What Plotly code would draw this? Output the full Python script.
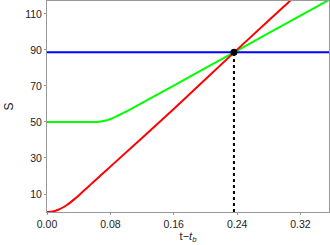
import plotly.graph_objects as go

# Data
red_t = [0, 0.005, 0.01, 0.015, 0.02, 0.025, 0.03, 0.035, 0.04, 0.045, 0.05, 0.055, 0.06, 0.065, 0.07, 0.08, 0.16, 0.24, 0.32, 0.36]
red_s = [0, 0.15, 0.6, 1.4, 2.5, 3.9, 5.5, 7.3, 9.2, 11.2, 13.2, 15.2, 17.2, 19.2, 21.2, 25.2, 57.2, 90.2, 122.6, 138.8]

green_t = [0, 0.062, 0.066, 0.07, 0.074, 0.078, 0.082, 0.086, 0.09, 0.095, 0.10, 0.16, 0.24, 0.32, 0.36]
green_s = [50, 50, 50.1, 50.4, 50.8, 51.3, 52.0, 52.7, 53.6, 54.7, 55.8, 70.2, 89.7, 109.1, 118.8]

blue_t = [0, 0.36]
blue_s = [88.7, 88.7]

cross_t = [0.236]
cross_s = [88.7]

x_ticks = [0.00, 0.08, 0.16, 0.24, 0.32]
x_tick_labels = ["0.00", "0.08", "0.16", "0.24", "0.32"]
y_ticks = [10, 30, 50, 70, 90, 110]

fig = go.Figure()
fig.add_trace(go.Scatter(x=blue_t, y=blue_s, mode="lines",
                         line=dict(color="#0000ff", width=2), showlegend=False))
fig.add_trace(go.Scatter(x=green_t, y=green_s, mode="lines",
                         line=dict(color="#00ff00", width=2, shape="spline", smoothing=0.6),
                         showlegend=False))
fig.add_trace(go.Scatter(x=red_t, y=red_s, mode="lines",
                         line=dict(color="#ff0000", width=2, shape="spline", smoothing=0.6),
                         showlegend=False))
fig.add_trace(go.Scatter(x=[cross_t[0], cross_t[0]], y=[0, cross_s[0]], mode="lines",
                         line=dict(color="#000000", width=2, dash="dot"), showlegend=False))
fig.add_trace(go.Scatter(x=cross_t, y=cross_s, mode="markers",
                         marker=dict(color="#000000", size=7), showlegend=False))

axis_common = dict(showgrid=False, zeroline=False, showline=True, linecolor="#999999",
                   linewidth=1, mirror=True, ticks="outside", ticklen=2,
                   tickcolor="#999999", tickfont=dict(family="Liberation Sans, Arial", size=10.5, color="#222222"))

fig.update_xaxes(range=[0, 0.356], tickvals=x_ticks, ticktext=x_tick_labels,
                 title=dict(text="t−<i>t<sub>b</sub></i>", standoff=0,
                            font=dict(family="Liberation Sans, Arial", size=11, color="#222222")),
                 **axis_common)
fig.update_yaxes(range=[0, 117.2], tickvals=y_ticks,
                 title=dict(text="S", standoff=8,
                            font=dict(family="Liberation Sans, Arial", size=12, color="#222222")),
                 **axis_common)

fig.update_layout(width=330, height=245, margin=dict(l=47, r=1, t=1, b=33),
                  plot_bgcolor="white", paper_bgcolor="white")

fig.write_html("out.html", config={"displayModeBar": False},
               post_script="document.body.style.margin='0';document.body.style.overflow='hidden';")
